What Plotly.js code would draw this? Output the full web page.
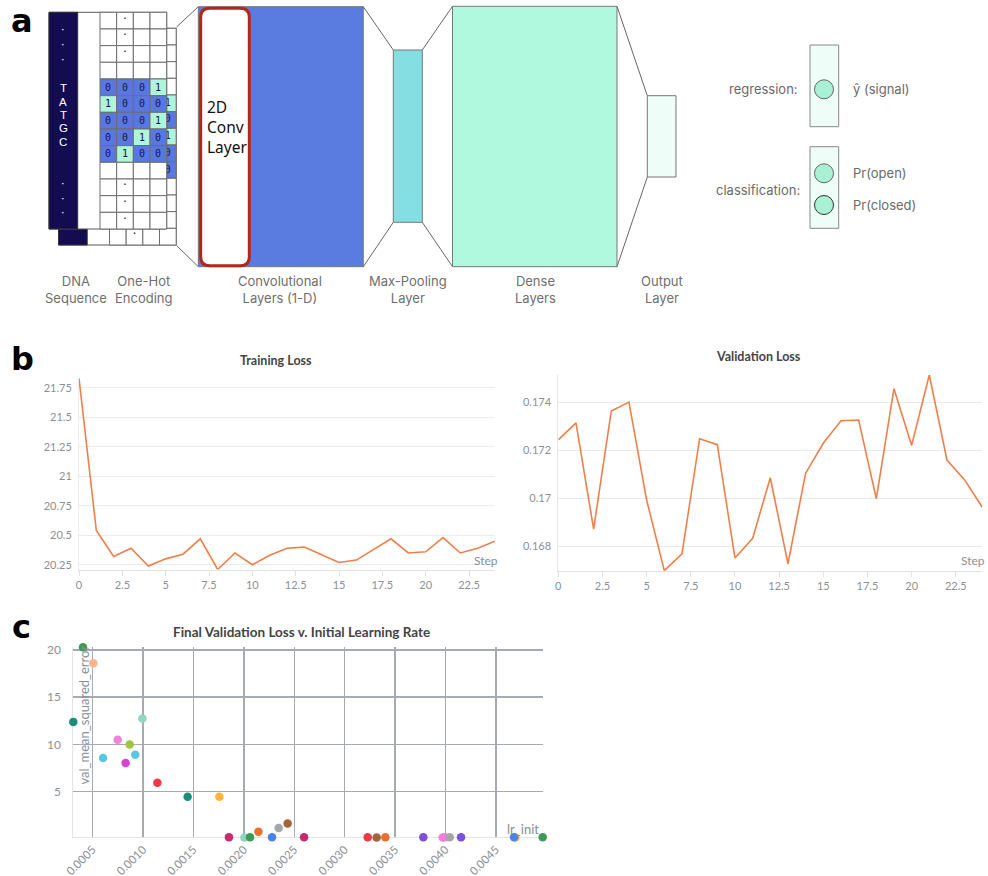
<!DOCTYPE html>
<html><head><meta charset="utf-8">
<script src="https://cdn.plot.ly/plotly-3.0.1.min.js"></script>
<style>html,body{margin:0;padding:0;background:#fff}#chart{width:988px;height:876px}</style>
</head><body><div id="chart"></div>
<script>
// ---------- DATA ----------
const steps = [0,1,2,3,4,5,6,7,8,9,10,11,12,13,14,15,16,17,18,19,20,21,22,23,24];
const trainLoss = [21.83,20.54,20.32,20.39,20.24,20.30,20.34,20.47,20.21,20.35,20.25,20.33,20.39,20.40,20.335,20.27,20.29,20.38,20.47,20.35,20.36,20.48,20.35,20.39,20.45];
const valLoss = [0.17243,0.17314,0.16871,0.17364,0.17401,0.16992,0.16697,0.16767,0.17248,0.17223,0.16750,0.16832,0.17085,0.16726,0.17104,0.17229,0.17323,0.17326,0.16998,0.17457,0.17220,0.17514,0.17159,0.17076,0.16962];
const trainTicks = [20.25,20.5,20.75,21,21.25,21.5,21.75];
const valTicks = [0.168,0.17,0.172,0.174];
const stepTicks = [0,2.5,5,7.5,10,12.5,15,17.5,20,22.5];

const lrInit = [0.000404,0.000507,0.000308,0.000993,0.000748,0.000867,0.000603,0.000923,0.000827,0.001142,0.001442,0.001757,0.001852,0.002005,0.002061,0.002144,0.002279,0.002345,0.002434,0.002597,0.003228,0.003317,0.003403,0.003780,0.003972,0.003995,0.004042,0.004154,0.004693,0.004680,0.004964];
const valMse = [20.28,18.59,12.39,12.75,10.49,10.0,8.56,8.91,8.03,5.95,4.47,4.47,0.18,0.17,0.18,0.78,0.18,1.16,1.65,0.18,0.18,0.17,0.18,0.18,0.17,0.18,0.18,0.18,0.17,0.18,0.18];
const runColors = ['#3e9b55','#f9b48e','#1e8c7c','#8fd5c0','#ef80dc','#a0c544','#5bc6e0','#5bc6e0','#d940d6','#ee3a48','#1e8c7c','#ffb33c','#c42a6c','#8fd5c0','#3e9b55','#e8722c','#4a84e6','#a3a7aa','#a3643c','#c42a6c','#ee3a48','#a3643c','#e8722c','#7c50dc','#ef80dc','#f07ee0','#a3a7aa','#7c50dc','#ffb33c','#4a84e6','#3e9b55'];
const lrTicks = [0.0005,0.001,0.0015,0.002,0.0025,0.003,0.0035,0.004,0.0045];
const mseTicks = [5,10,15,20];

const dnaBases = ['T','A','T','G','C'];
const oneHot = [[0,0,0,1],[1,0,0,0],[0,0,0,1],[0,0,1,0],[0,1,0,0]];

// ---------- helpers ----------
const W = 988, H = 876;
const X = p => p / W, Y = p => 1 - p / H;
const shapes = [], annotations = [];
function rect(x0,y0,x1,y1,fill,lc,lw,layer){
  shapes.push({type:'rect',xref:'paper',yref:'paper',x0:X(x0),x1:X(x1),y0:Y(y1),y1:Y(y0),
    fillcolor:fill,line:{color:lc,width:lw},layer:layer||'above'});
}
function seg(x0,y0,x1,y1,lc,lw){
  shapes.push({type:'line',xref:'paper',yref:'paper',x0:X(x0),x1:X(x1),y0:Y(y0),y1:Y(y1),line:{color:lc,width:lw}});
}
function circ(cx,cy,r,fill,lc){
  shapes.push({type:'circle',xref:'paper',yref:'paper',x0:X(cx-r),x1:X(cx+r),y0:Y(cy+r),y1:Y(cy-r),fillcolor:fill,line:{color:lc,width:1}});
}
function roundRect(x0,y0,x1,y1,r,fill,lc,lw){
  const P=(x,y)=>X(x)+','+Y(y);
  const d='M'+P(x0+r,y0)+' L'+P(x1-r,y0)+' Q'+P(x1,y0)+' '+P(x1,y0+r)+
    ' L'+P(x1,y1-r)+' Q'+P(x1,y1)+' '+P(x1-r,y1)+' L'+P(x0+r,y1)+' Q'+P(x0,y1)+' '+P(x0,y1-r)+
    ' L'+P(x0,y0+r)+' Q'+P(x0,y0)+' '+P(x0+r,y0)+' Z';
  shapes.push({type:'path',xref:'paper',yref:'paper',path:d,fillcolor:fill,line:{color:lc,width:lw}});
}
function ann(x,y,text,size,color,family,xanchor,extra){
  annotations.push(Object.assign({xref:'paper',yref:'paper',x:X(x),y:Y(y),text:text,showarrow:false,
    xanchor:xanchor||'center',yanchor:'middle',font:{size:size,color:color,family:family}},extra||{}));
}

// ---------- panel a : diagram ----------
const NAVY='#140c50', BLUE='#5878e0', MINT='#aef5da', CELLLINE='#6e6e6e';
const backText = {x:[],y:[],text:[],color:[]};
function oneHotLayer(dx,dy,isBack){
  const layer = isBack ? 'below' : 'above';
  const put = (x,y,t,size,color,fam)=>{
    if(isBack){ backText.x.push(x); backText.y.push(y); backText.text.push(t); backText.color.push(color); }
    else ann(x,y,t,size,color,fam);
  };
  const gx0=100+dx, cw=16.67, gy0=12.3+dy, rh=16.67;
  rect(49+dx,gy0,166.67+dx,gy0+13*rh,'#ffffff','#555555',1,layer);
  rect(49+dx,gy0,77.7+dx,gy0+13*rh,NAVY,'#333333',1,layer);
  for(let r=0;r<13;r++){
    for(let c=0;c<4;c++){
      let fill='#ffffff';
      const hot = r>=4 && r<=8;
      if(hot) fill = oneHot[r-4][c] ? MINT : BLUE;
      rect(gx0+c*cw,gy0+r*rh,gx0+(c+1)*cw,gy0+(r+1)*rh,fill,CELLLINE,1,layer);
      const cx=gx0+(c+0.5)*cw, cy=gy0+(r+0.5)*rh;
      if(hot) put(cx,cy,String(oneHot[r-4][c]),10,'#1b1450','DejaVu Sans Mono');
      else if(c===1 && [0,1,2,10,11,12].indexOf(r)>=0) put(cx,cy-2,'·',12,'#222222','DejaVu Sans');
    }
  }
  dnaBases.forEach((b,i)=>put(63.3+dx,88.3+13.33*i+dy,b,11.5,'#ffffff','Liberation Sans'));
  [31.7,46.7,61.7,185,200,215].forEach(yy=>put(63.3+dx,yy-2+dy,'·',11,'#ffffff','DejaVu Sans'));
}
oneHotLayer(9.5,16,true);
oneHotLayer(0,0,false);

// funnels and layers
const EDGE='#666666';
seg(176.5,27,198.3,6.7,EDGE,1); seg(176.5,245.5,198.3,266.7,EDGE,1);
rect(198.3,6.7,363.3,266.7,'#5a7ce0','#777777',1);
roundRect(200.7,8.3,249.3,265.7,9,'#ffffff','#b3261e',3);
ann(205,126.7,'2D<br>Conv<br>Layer',15.5,'#111111','Noto Sans','left',{align:'left'});
seg(363.3,6.7,393.3,50,EDGE,1); seg(363.3,266.7,393.3,222.3,EDGE,1);
rect(393.3,50,422.3,222.3,'#84dfe3','#777777',1);
seg(422.3,50,452.5,6.3,EDGE,1); seg(422.3,222.3,452.5,266.7,EDGE,1);
rect(452.5,6.3,617,266.7,'#b0f9de','#777777',1);
seg(617,6.3,647.3,95.7,EDGE,1); seg(617,266.7,647.3,177,EDGE,1);
rect(647.3,95.7,676,177,'#effdf8','#777777',1);

rect(810,45,838.7,126.7,'#effdf8','#888888',1);
circ(824,89.3,9.5,'#aaf0d4','#666666');
rect(810,146.7,838.7,228.3,'#effdf8','#888888',1);
circ(824,173.3,9.5,'#aaf0d4','#666666');
circ(824,205,9.5,'#aaf0d4','#333333');

const LBL='#6a6a6a', LF='Inter';
ann(800,89.3,'regression:',13,LBL,LF,'right');
ann(851,89.3,'ŷ (signal)',13,LBL,LF,'left');
ann(801.5,190,'classification:',13,LBL,LF,'right');
ann(851,173.3,'Pr(open)',13,LBL,LF,'left');
ann(851,205,'Pr(closed)',13,LBL,LF,'left');

const layerLabels = [['DNA<br>Sequence',76],['One-Hot<br>Encoding',143],['Convolutional<br>Layers (1-D)',280],['Max-Pooling<br>Layer',407.5],['Dense<br>Layers',535],['Output<br>Layer',661.5]];
layerLabels.forEach(l=>ann(l[1],289,l[0],13,'#6f6f6f',LF,'center',{align:'center'}));

// panel letters
ann(22,21,'<b>a</b>',32,'#000000','DejaVu Sans');
ann(22,359,'<b>b</b>',32,'#000000','DejaVu Sans');
ann(21,627,'<b>c</b>',32,'#000000','DejaVu Sans');

// ---------- panel b / c titles ----------
const TF='Lato', TICK='#8c8f96';
ann(275.5,360,'<b>Training Loss</b>',12.5,'#444444',TF);
ann(758.5,357,'<b>Validation Loss</b>',12.5,'#444444',TF);
ann(500,560,'Step',12,TICK,TF,'right');
ann(987,560.5,'Step',12,TICK,TF,'right');
ann(301.5,632,'<b>Final Validation Loss v. Initial Learning Rate</b>',13.5,'#444444',TF);
ann(83.5,715,'val_mean_squared_error',13,'#8a8d94',TF,'center',{textangle:-90});
ann(522.5,828.5,'lr_init',13,'#8a8d94',TF);

// ---------- traces ----------
const LINE='#ef7f4a';
const traces = [
  {type:'scatter',mode:'lines',x:steps,y:trainLoss,xaxis:'x',yaxis:'y',line:{color:LINE,width:1.6},hoverinfo:'skip'},
  {type:'scatter',mode:'lines',x:steps,y:valLoss,xaxis:'x2',yaxis:'y2',line:{color:LINE,width:1.6},hoverinfo:'skip',cliponaxis:false},
  {type:'scatter',mode:'markers',x:lrInit,y:valMse,xaxis:'x3',yaxis:'y3',marker:{size:8.5,color:runColors,line:{width:0}},cliponaxis:false,hoverinfo:'skip'},
  {type:'scatter',mode:'text',x:backText.x,y:backText.y,text:backText.text,xaxis:'x4',yaxis:'y4',
    textfont:{size:10,color:backText.color,family:'DejaVu Sans Mono'},textposition:'middle center',cliponaxis:false,hoverinfo:'skip'}
];

const tickFont = {size:11,color:TICK,family:TF};
const layout = {
  width:W,height:H,margin:{l:0,r:0,t:0,b:0},showlegend:false,
  paper_bgcolor:'#ffffff',plot_bgcolor:'rgba(0,0,0,0)',
  xaxis:{domain:[X(79),X(495)],range:[0,24],tickvals:stepTicks,showgrid:false,zeroline:false,showline:true,linecolor:'#e2e2e2',
    ticks:'outside',ticklen:5,tickcolor:'#e2e2e2',tickfont:tickFont,anchor:'y',fixedrange:true},
  yaxis:{domain:[Y(569.5),Y(378.3)],range:[20.21,21.83],tickvals:trainTicks,gridcolor:'#ebebeb',zeroline:false,showline:true,linecolor:'#ededed',
    ticks:'outside',ticklen:4,tickcolor:'rgba(0,0,0,0)',tickfont:tickFont,anchor:'x',fixedrange:true},
  xaxis2:{domain:[X(558.3),X(982.3)],range:[0,24],tickvals:stepTicks,showgrid:false,zeroline:false,showline:true,linecolor:'#e2e2e2',
    ticks:'outside',ticklen:5,tickcolor:'#e2e2e2',tickfont:tickFont,anchor:'y2',fixedrange:true},
  yaxis2:{domain:[Y(570.7),Y(375)],range:[0.16697,0.17514],tickvals:valTicks,gridcolor:'#ebebeb',zeroline:false,showline:true,linecolor:'#e6e6e6',
    ticks:'outside',ticklen:4,tickcolor:'rgba(0,0,0,0)',tickfont:tickFont,anchor:'x2',fixedrange:true},
  xaxis3:{domain:[X(73.3),X(542.7)],range:[0.000308,0.004964],tickvals:lrTicks,tickformat:'.4f',tickangle:-45,
    gridcolor:'#a6aab1',gridwidth:1.5,zeroline:false,showline:true,linecolor:'#e4e4e4',layer:'below traces',
    ticks:'',tickfont:{size:11.5,color:TICK,family:TF},anchor:'y3',fixedrange:true},
  yaxis3:{domain:[Y(837.4),Y(647.3)],range:[0.17,20.28],tickvals:mseTicks,gridcolor:'#a6aab1',gridwidth:1.5,zeroline:false,showline:true,linecolor:'#e4e4e4',layer:'below traces',
    ticks:'outside',ticklen:9,tickcolor:'rgba(0,0,0,0)',tickfont:{size:12,color:TICK,family:TF},anchor:'x3',fixedrange:true},
  xaxis4:{domain:[0,1],range:[0,W],visible:false,fixedrange:true,anchor:'y4'},
  yaxis4:{domain:[0,1],range:[H,0],visible:false,fixedrange:true,anchor:'x4'},
  shapes:shapes,annotations:annotations
};
Plotly.newPlot('chart',traces,layout,{displayModeBar:false,staticPlot:true});
</script></body></html>
